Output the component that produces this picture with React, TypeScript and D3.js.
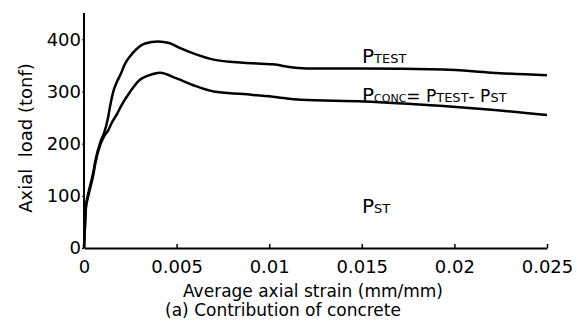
import React, { useEffect, useRef } from 'react'
import * as d3 from 'd3'

// strain (mm/mm) vs axial load (tonf)
const testStrain = [0, 0.00005, 0.0001, 0.0002, 0.0003, 0.0005, 0.0006, 0.0009, 0.0011, 0.0013, 0.0014, 0.0016, 0.0018, 0.002, 0.0022, 0.0025, 0.0028, 0.0033, 0.004, 0.0046, 0.0052, 0.0059, 0.007, 0.0086, 0.0102, 0.0113, 0.0122, 0.015, 0.0194, 0.022, 0.025]
const testLoad = [0, 40, 80, 100, 115, 145, 165, 205, 222, 250, 270, 302, 320, 335, 352, 368, 380, 392, 396, 393, 383, 373, 361, 355, 352, 346, 344, 344, 342, 336, 331]

const concStrain = [0, 0.00005, 0.0001, 0.0002, 0.0003, 0.0005, 0.0006, 0.0009, 0.0011, 0.0013, 0.0015, 0.0018, 0.002, 0.0025, 0.003, 0.0035, 0.0041, 0.005, 0.0059, 0.007, 0.0086, 0.0102, 0.0117, 0.0151, 0.0194, 0.022, 0.025]
const concLoad = [0, 40, 75, 95, 110, 140, 160, 200, 215, 225, 240, 258, 272, 300, 322, 331, 336, 325, 312, 300, 295, 290, 284, 281, 272, 265, 255]

const xTicks = [0, 0.005, 0.01, 0.015, 0.02, 0.025]
const xTickLabels = ['0', '0.005', '0.01', '0.015', '0.02', '0.025']
const yTicks = [0, 100, 200, 300, 400]

const font = '"DejaVu Sans", sans-serif'

export default function App() {
    const ref = useRef<SVGSVGElement>(null)
    const width = 577
    const height = 334

    useEffect(() => {
        const svg = d3.select(ref.current)
        svg.selectAll('*').remove()

        const x = d3.scaleLinear().domain([0, 0.025]).range([84, 547])
        const y = d3.scaleLinear().domain([0, 400]).range([248, 39.3])

        const line = d3.line<[number, number]>()
            .x(d => x(d[0]))
            .y(d => y(d[1]))
            .curve(d3.curveMonotoneX)

        const test: [number, number][] = testStrain.map((s, i) => [s, testLoad[i]])
        const conc: [number, number][] = concStrain.map((s, i) => [s, concLoad[i]])

        svg.append('path')
            .datum(test)
            .attr('fill', 'none')
            .attr('stroke', '#000')
            .attr('stroke-width', 2.5)
            .attr('d', line)

        svg.append('path')
            .datum(conc)
            .attr('fill', 'none')
            .attr('stroke', '#000')
            .attr('stroke-width', 2.5)
            .attr('d', line)

        // axes
        const xAxis = svg.append('g')
            .attr('transform', `translate(0,${y(0)})`)
            .call(d3.axisBottom(x).tickValues(xTicks).tickSizeInner(-4).tickSizeOuter(0).tickFormat((_, i) => xTickLabels[i]))
        xAxis.select('.domain').attr('stroke-width', 2)
        xAxis.selectAll('.tick line').attr('stroke-width', 1.5)
        xAxis.selectAll('.tick text')
            .attr('font-family', font)
            .attr('font-size', 18)
            .attr('fill', '#000')
            .attr('y', 12)
            .attr('dy', '0.71em')

        const yAxis = svg.append('g')
            .attr('transform', `translate(${x(0)},0)`)
            .call(d3.axisLeft(y).tickValues(yTicks).tickSizeInner(2).tickSizeOuter(0).tickPadding(1))
        yAxis.select('.domain').attr('d', `M0,${y(0)}V13`).attr('stroke-width', 2)
        yAxis.selectAll('.tick text')
            .attr('font-family', font)
            .attr('font-size', 18)
            .attr('fill', '#000')

        // axis titles
        svg.append('text')
            .attr('x', 313)
            .attr('y', 297)
            .attr('text-anchor', 'middle')
            .attr('font-family', font)
            .attr('font-size', 17)
            .text('Average axial strain (mm/mm)')

        svg.append('text')
            .attr('x', 283)
            .attr('y', 316)
            .attr('text-anchor', 'middle')
            .attr('font-family', font)
            .attr('font-size', 17)
            .text('(a) Contribution of concrete')

        svg.append('text')
            .attr('transform', 'translate(32,138) rotate(-90)')
            .attr('text-anchor', 'middle')
            .attr('font-family', font)
            .attr('font-size', 18)
            .style('white-space', 'pre')
            .text('Axial  load (tonf)')

        // annotations
        const note = (xp: number, yp: number, parts: [string, number][]) => {
            const t = svg.append('text')
                .attr('x', xp)
                .attr('y', yp)
                .attr('font-family', font)
                .style('white-space', 'pre')
            parts.forEach(([s, fs]) => {
                t.append('tspan').attr('font-size', fs).text(s)
            })
        }
        note(362, 63, [['P', 20], ['TEST', 13]])
        note(362, 102, [['P', 20], ['CONC', 11], ['= P', 17], ['TEST', 13], ['- P', 17], ['ST', 13]])
        note(362, 213, [['P', 20], ['ST', 13]])
    }, [])

    return (
        <div>
            <svg ref={ref} width={width} height={height} style={{ position: 'absolute', left: 0, top: 0, background: '#fff' }}></svg>
        </div>
    )
}
